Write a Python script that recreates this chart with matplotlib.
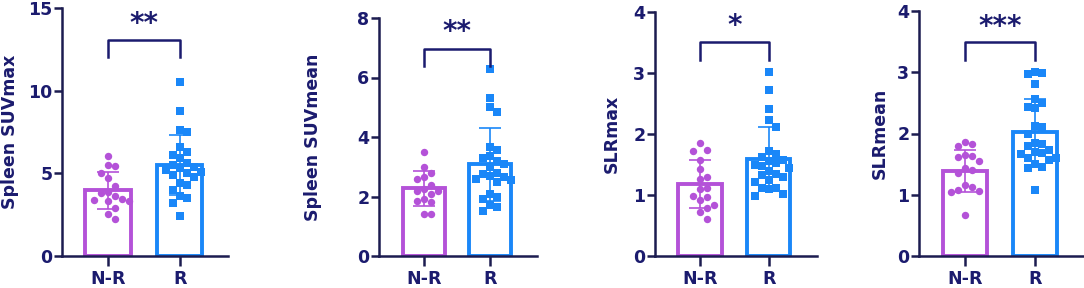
import numpy as np
import matplotlib
matplotlib.use("Agg")
import matplotlib.pyplot as plt

plt.rcParams['font.family'] = ['DejaVu Sans']

groups = ["N-R", "R"]

suvmax_nr = [6.05, 5.5, 5.45, 5.0, 4.7, 4.25, 3.85, 3.8, 3.6, 3.45, 3.4, 3.35, 3.3, 2.9, 2.55, 2.25]
suvmax_r = [10.5, 8.8, 7.6, 7.5, 6.6, 6.3, 6.1, 5.9, 5.6, 5.5, 5.4, 5.3, 5.2, 5.1, 5.0,
            4.9, 4.8, 4.4, 4.3, 4.0, 3.6, 3.5, 3.2, 2.4]

suvmean_nr = [3.5, 3.0, 2.8, 2.65, 2.6, 2.4, 2.25, 2.2, 2.2, 2.1, 1.9, 1.85, 1.8, 1.4, 1.4]
suvmean_r = [6.3, 5.3, 5.0, 4.85, 3.65, 3.55, 3.35, 3.3, 3.2, 3.1, 3.0, 2.8, 2.75, 2.7, 2.65,
             2.6, 2.55, 2.5, 2.1, 2.0, 1.9, 1.7, 1.65, 1.5]

slrmax_nr = [1.86, 1.73, 1.72, 1.57, 1.42, 1.30, 1.26, 1.12, 1.10, 0.98, 0.96, 0.92, 0.84, 0.78, 0.72, 0.60]
slrmax_r = [3.02, 2.72, 2.41, 2.23, 2.12, 1.72, 1.68, 1.63, 1.58, 1.55, 1.52, 1.50, 1.47, 1.45, 1.40,
            1.34, 1.32, 1.30, 1.25, 1.22, 1.12, 1.11, 1.10, 1.01, 0.99]

slrmean_nr = [1.86, 1.83, 1.79, 1.65, 1.63, 1.61, 1.55, 1.43, 1.40, 1.36, 1.16, 1.12, 1.08, 1.06, 1.04, 0.67]
slrmean_r = [3.01, 2.99, 2.97, 2.81, 2.56, 2.50, 2.44, 2.41, 2.12, 2.10, 2.00, 1.85, 1.83, 1.80, 1.73,
             1.70, 1.68, 1.67, 1.60, 1.60, 1.56, 1.51, 1.46, 1.44, 1.07]

ylabels = ["Spleen SUVmax", "Spleen SUVmean", "SLRmax", "SLRmean"]
stars = ["**", "**", "*", "***"]
yticks = [[0, 5, 10, 15], [0, 2, 4, 6, 8], [0, 1, 2, 3, 4], [0, 1, 2, 3, 4]]
panels = [(suvmax_nr, suvmax_r), (suvmean_nr, suvmean_r),
          (slrmax_nr, slrmax_r), (slrmean_nr, slrmean_r)]

PURPLE = "#b452d8"
BLUE = "#1a87f8"
NAVY = "#1b1b6e"
AXIS = "#1c1c50"

W, H = 1084, 288
fig = plt.figure(figsize=(W / 100, H / 100), dpi=100)

# layout in pixels: left, top, right, bottom
boxes = [(62, 8, 228, 256), (379, 18, 537, 256), (655, 12, 817, 256), (919, 11, 1083, 256)]
xlims = [(-0.64, 1.67), (-0.68, 1.71), (-0.65, 1.70), (-0.66, 1.69)]
label_off = [52, 66, 43, 39]
bracket_px = [(40, 57), (49, 66), (42, 60), (42, 60)]
star_px = [24, 32, 26, 27]

D = 7.4  # marker size in px
STEP = 6.9  # horizontal step between columns, px
BAR_W = 0.63


def swarm(vals, ppu_x, ppu_y, half):
    vals = np.asarray(vals)
    xs = np.zeros(len(vals))
    placed = []
    n_side = int(half // STEP)
    cands = [0] + [s * j for j in range(1, n_side + 1) for s in (1, -1)]

    def clashes(c, y, dy):
        return sum(abs(c * STEP - px) < STEP * 0.95 and abs(y - py) < dy for px, py in placed)

    for i in np.argsort(vals)[::-1]:
        y = vals[i] * ppu_y
        free = [c for c in cands if clashes(c, y, D * 1.2) == 0]
        if free:
            best = free[0]
        else:
            best = min(cands, key=lambda c: (clashes(c, y, D * 0.8), clashes(c, y, D * 1.2), abs(c)))
        placed.append((best * STEP, y))
        xs[i] = best * STEP / ppu_x
    return xs


for p in range(4):
    l, t, r, b = boxes[p]
    ax = fig.add_axes([l / W, 1 - b / H, (r - l) / W, (b - t) / H])
    ymax = yticks[p][-1]
    ax.set_xlim(*xlims[p])
    ax.set_ylim(0, ymax)
    ppu_x = (r - l) / (xlims[p][1] - xlims[p][0])
    ppu_y = (b - t) / ymax

    for g, (vals, color, marker) in enumerate(zip(panels[p], [PURPLE, BLUE], ["o", "s"])):
        vals = np.array(vals)
        m, sd = vals.mean(), vals.std(ddof=1)
        ax.bar(g, m, width=BAR_W, facecolor="white", edgecolor=color, linewidth=2.8, zorder=1)
        xs = swarm(vals, ppu_x, ppu_y, BAR_W / 2 * ppu_x + 1)
        ax.scatter(g + xs, vals, marker=marker, s=(D / 1.389) ** 2, color=color,
                   linewidths=0, zorder=3)
        ax.errorbar(g, m, yerr=sd, color=color, capsize=8, elinewidth=1.2,
                    capthick=1.2, zorder=4)

    hi, lo = [(b - v) / ppu_y for v in bracket_px[p]]
    ax.plot([0, 0, 1, 1], [lo, hi, hi, lo], color=NAVY, lw=1.8, clip_on=False, zorder=5)
    ax.text(0.5, (b - star_px[p]) / ppu_y, stars[p], ha="center", va="center",
            fontsize=20, fontweight="bold", color=NAVY)

    ax.set_xticks([0, 1])
    ax.set_xticklabels(groups)
    ax.set_yticks(yticks[p])
    for s in ["top", "right"]:
        ax.spines[s].set_visible(False)
    for s in ["left", "bottom"]:
        ax.spines[s].set_linewidth(1.8)
        ax.spines[s].set_color(AXIS)
    ax.tick_params(axis="y", length=6, width=1.8, color=AXIS, labelcolor=NAVY,
                   labelsize=12.5, pad=1)
    ax.tick_params(axis="x", length=7, width=1.8, color=AXIS, labelcolor=NAVY,
                   labelsize=12.5, pad=3)
    for lab in ax.get_xticklabels() + ax.get_yticklabels():
        lab.set_fontweight("bold")
    ax.set_ylabel(ylabels[p], fontsize=12.5, fontweight="bold", color=NAVY, va="center")
    ax.yaxis.set_label_coords(-label_off[p] / (r - l), 0.5)

fig.savefig("out.png", dpi=100)
